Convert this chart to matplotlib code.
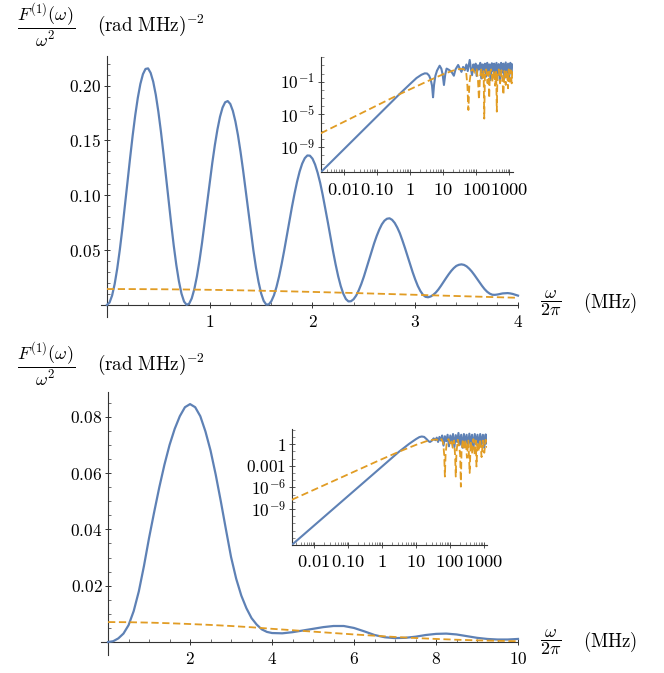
import numpy as np
import matplotlib
matplotlib.use("Agg")
import matplotlib.pyplot as plt
from matplotlib.ticker import FixedLocator, FixedFormatter, NullFormatter

plt.rcParams['mathtext.fontset'] = 'cm'
plt.rcParams['font.family'] = ['DejaVu Serif']

# ---------------- data: top panel (main) ----------------
top_x = [0.000, 0.025, 0.050, 0.075, 0.100, 0.125, 0.150, 0.175, 0.200, 0.225, 0.250, 0.275, 0.300, 0.325,
         0.350, 0.375, 0.400, 0.425, 0.450, 0.475, 0.500, 0.525, 0.550, 0.575, 0.600, 0.625, 0.650, 0.675,
         0.700, 0.725, 0.750, 0.775, 0.800, 0.825, 0.850, 0.875, 0.900, 0.925, 0.950, 0.975, 1.000, 1.025,
         1.050, 1.075, 1.100, 1.125, 1.150, 1.175, 1.200, 1.225, 1.250, 1.275, 1.300, 1.325, 1.350, 1.375,
         1.400, 1.425, 1.450, 1.475, 1.500, 1.525, 1.550, 1.575, 1.600, 1.625, 1.650, 1.675, 1.700, 1.725,
         1.750, 1.775, 1.800, 1.825, 1.850, 1.875, 1.900, 1.925, 1.950, 1.975, 2.000, 2.025, 2.050, 2.075,
         2.100, 2.125, 2.150, 2.175, 2.200, 2.225, 2.250, 2.275, 2.300, 2.325, 2.350, 2.375, 2.400, 2.425,
         2.450, 2.475, 2.500, 2.525, 2.550, 2.575, 2.600, 2.625, 2.650, 2.675, 2.700, 2.725, 2.750, 2.775,
         2.800, 2.825, 2.850, 2.875, 2.900, 2.925, 2.950, 2.975, 3.000, 3.025, 3.050, 3.075, 3.100, 3.125,
         3.150, 3.175, 3.200, 3.225, 3.250, 3.275, 3.300, 3.325, 3.350, 3.375, 3.400, 3.425, 3.450, 3.475,
         3.500, 3.525, 3.550, 3.575, 3.600, 3.625, 3.650, 3.675, 3.700, 3.725, 3.750, 3.775, 3.800, 3.825,
         3.850, 3.875, 3.900, 3.925, 3.950, 3.975, 4.000]
top_blue = [0.0000, 0.0022, 0.0086, 0.0191, 0.0332, 0.0503, 0.0697, 0.0906, 0.1123, 0.1339, 0.1544, 0.1729,
            0.1888, 0.2015, 0.2104, 0.2152, 0.2157, 0.2116, 0.2036, 0.1917, 0.1763, 0.1582, 0.1380, 0.1166,
            0.0950, 0.0740, 0.0540, 0.0364, 0.0217, 0.0104, 0.0031, 0.0001, 0.0012, 0.0060, 0.0144, 0.0259,
            0.0402, 0.0565, 0.0744, 0.0930, 0.1116, 0.1295, 0.1458, 0.1600, 0.1716, 0.1800, 0.1848, 0.1859,
            0.1833, 0.1770, 0.1673, 0.1547, 0.1395, 0.1226, 0.1042, 0.0857, 0.0667, 0.0497, 0.0341, 0.0210,
            0.0106, 0.0037, 0.0003, 0.0005, 0.0035, 0.0088, 0.0165, 0.0261, 0.0374, 0.0498, 0.0629, 0.0763,
            0.0893, 0.1014, 0.1124, 0.1217, 0.1289, 0.1338, 0.1363, 0.1361, 0.1334, 0.1281, 0.1206, 0.1113,
            0.1001, 0.0877, 0.0751, 0.0618, 0.0490, 0.0370, 0.0262, 0.0172, 0.0102, 0.0054, 0.0032, 0.0034,
            0.0052, 0.0085, 0.0133, 0.0191, 0.0258, 0.0333, 0.0410, 0.0487, 0.0562, 0.0629, 0.0687, 0.0735,
            0.0768, 0.0786, 0.0790, 0.0776, 0.0748, 0.0706, 0.0654, 0.0589, 0.0519, 0.0445, 0.0370, 0.0298,
            0.0232, 0.0173, 0.0127, 0.0093, 0.0074, 0.0070, 0.0077, 0.0092, 0.0113, 0.0141, 0.0174, 0.0210,
            0.0245, 0.0279, 0.0310, 0.0336, 0.0356, 0.0366, 0.0370, 0.0365, 0.0352, 0.0331, 0.0305, 0.0274,
            0.0241, 0.0207, 0.0174, 0.0144, 0.0120, 0.0103, 0.0093, 0.0092, 0.0095, 0.0100, 0.0105, 0.0107,
            0.0108, 0.0105, 0.0100, 0.0093, 0.0085]
top_orange_x = [0.00, 0.25, 0.50, 0.75, 1.00, 1.25, 1.50, 1.75, 2.00, 2.25, 2.50, 2.75, 3.00, 3.25, 3.50, 3.75, 4.00]
top_orange = [0.01450, 0.01445, 0.01432, 0.01410, 0.01379, 0.01341, 0.01296, 0.01244, 0.01187, 0.01126,
              0.01061, 0.00994, 0.00925, 0.00855, 0.00786, 0.00718, 0.00652]

# ---------------- data: bottom panel (main) ----------------
bot_x = [0.000, 0.125, 0.250, 0.375, 0.500, 0.625, 0.750, 0.875, 1.000, 1.125, 1.250, 1.375, 1.500, 1.625,
         1.750, 1.875, 2.000, 2.125, 2.250, 2.375, 2.500, 2.625, 2.750, 2.875, 3.000, 3.125, 3.250, 3.375,
         3.500, 3.625, 3.750, 3.875, 4.000, 4.25, 4.50, 4.75, 5.00, 5.25, 5.50, 5.75, 6.00, 6.25, 6.50,
         6.75, 7.00, 7.25, 7.50, 7.75, 8.00, 8.25, 8.50, 8.75, 9.00, 9.25, 9.50, 9.75, 10.00]
bot_blue = [0.0000, 0.0003, 0.0013, 0.0030, 0.0060, 0.0110, 0.0180, 0.0270, 0.0370, 0.0462, 0.0550, 0.0630,
            0.0700, 0.0757, 0.0802, 0.0834, 0.0845, 0.0834, 0.0802, 0.0748, 0.0680, 0.0595, 0.0500, 0.0400,
            0.0302, 0.0225, 0.0165, 0.0120, 0.0085, 0.0062, 0.0045, 0.0036, 0.0032, 0.0031, 0.0035, 0.0041,
            0.0047, 0.0053, 0.0057, 0.0057, 0.0050, 0.0038, 0.0025, 0.0017, 0.0014, 0.0015, 0.0019, 0.0025,
            0.0029, 0.0030, 0.0027, 0.0021, 0.0015, 0.0011, 0.0009, 0.0009, 0.0011]
bot_orange_x = [0.0, 0.5, 1.0, 1.5, 2.0, 2.5, 3.0, 3.5, 4.0, 4.5, 5.0, 5.5, 6.0, 6.5, 7.0, 7.5, 8.0, 8.5,
                9.0, 9.5, 10.0]
bot_orange = [0.00710, 0.00705, 0.00690, 0.00668, 0.00640, 0.00608, 0.00570, 0.00525, 0.00470, 0.00420,
              0.00370, 0.00320, 0.00270, 0.00225, 0.00180, 0.00143, 0.00110, 0.00082, 0.00060, 0.00043,
              0.00030]

# ---------------- data: insets (log10 x, log10 y) ----------------
ti_blue_lx = [-2.70, -1.00, -0.30, 0.00, 0.20, 0.35, 0.45, 0.52, 0.58, 0.63, 0.67, 0.70, 0.73, 0.77, 0.82,
              0.90, 0.95, 0.99, 1.03, 1.07, 1.11, 1.18, 1.26, 1.33, 1.38, 1.46, 1.51, 1.56, 1.61, 1.66,
              1.71, 1.75, 1.81, 1.85, 1.88, 1.92, 1.95, 1.99, 2.02, 2.06, 2.09, 2.13, 2.16, 2.20, 2.23,
              2.27, 2.30, 2.34, 2.37, 2.41, 2.44, 2.48, 2.51, 2.55, 2.58, 2.62, 2.65, 2.69, 2.72, 2.76,
              2.79, 2.83, 2.86, 2.90, 2.93, 2.97, 3.00, 3.04, 3.07, 3.10]
ti_blue_ly = [-12.05, -5.25, -2.45, -1.30, -0.55, -0.15, 0.02, 0.00, -0.25, -0.75, -1.50, -2.90, -1.40, -0.30, 0.35,
              0.95, 0.60, -0.10, -1.40, -0.10, 0.60, 0.45, 0.20, -0.27, 0.50, 1.04, 0.60, 0.20, 0.80, 0.40,
              1.10, 0.30, 1.65, 0.50, -0.20, 1.10, 0.40, 1.20, -0.30, 1.00, 0.50, 1.30, -0.60, 1.10, 0.20,
              1.20, -0.40, 1.30, 0.00, 1.10, -0.80, 1.25, 0.30, 1.20, -0.50, 1.30, -0.20, 1.15, -0.90, 1.30,
              0.10, 1.20, -0.60, 1.35, -0.30, 1.20, -0.70, 1.30, 0.00, 1.10]
ti_orange_lx = [-2.70, -0.30, 0.50, 1.00, 1.30, 1.50, 1.62, 1.70, 1.74, 1.77, 1.80, 1.85, 1.90, 1.96, 2.02,
                2.06, 2.09, 2.12, 2.16, 2.20, 2.23, 2.25, 2.27, 2.31, 2.35, 2.38, 2.40, 2.42, 2.46, 2.50,
                2.54, 2.58, 2.61, 2.63, 2.65, 2.69, 2.73, 2.77, 2.80, 2.83, 2.86, 2.90, 2.93, 2.95, 2.97,
                2.99, 3.02, 3.05, 3.08, 3.10]
ti_orange_ly = [-7.30, -2.50, -1.00, -0.10, 0.35, 0.55, 0.55, 0.30, -1.50, -4.45, -1.20, 0.30, 0.55, 0.10, 0.50,
                -0.80, -3.20, -0.50, 0.50, -0.60, 0.30, -5.50, -0.30, 0.50, -1.20, 0.20, -3.00, 0.10, 0.50, -1.00,
                0.40, -1.50, 0.20, -4.65, 0.10, 0.50, -1.20, 0.40, -0.90, -2.60, 0.30, -1.40, 0.40, -0.60, -1.80,
                0.50, -1.00, 0.40, -1.20, 0.50]

bi_blue_lx = [-2.66, -0.06, 0.50, 0.80, 1.00, 1.10, 1.17, 1.24, 1.31, 1.37, 1.41, 1.46, 1.52, 1.57, 1.61,
              1.65, 1.69, 1.73, 1.77, 1.81, 1.85, 1.89, 1.93, 1.97, 2.01, 2.05, 2.09, 2.13, 2.17, 2.21,
              2.25, 2.29, 2.33, 2.37, 2.41, 2.45, 2.49, 2.53, 2.57, 2.61, 2.65, 2.69, 2.73, 2.77, 2.81,
              2.85, 2.89, 2.93, 2.97, 3.01, 3.05, 3.08]
bi_blue_ly = [-14.00, -3.35, -1.05, 0.05, 0.70, 0.98, 1.06, 1.00, 0.70, 0.40, 0.30, 0.45, 0.80, 0.55, 0.90,
              0.30, 1.00, 0.50, 1.20, -0.20, 1.10, 0.40, 1.30, -0.30, 1.20, 0.20, 1.40, -0.40, 1.25, 0.30,
              1.55, -0.10, 1.30, -0.50, 1.40, 0.20, 1.30, -0.40, 1.45, 0.00, 1.30, -0.60, 1.40, 0.10, 1.30,
              -0.30, 1.40, 0.00, 1.30, -0.50, 1.35, 0.10]
bi_orange_lx = [-2.66, -0.06, 0.50, 1.00, 1.30, 1.50, 1.60, 1.68, 1.75, 1.80, 1.83, 1.85, 1.87, 1.91, 1.96,
                2.00, 2.04, 2.08, 2.12, 2.15, 2.17, 2.19, 2.23, 2.27, 2.30, 2.32, 2.34, 2.38, 2.42, 2.46,
                2.50, 2.54, 2.58, 2.61, 2.65, 2.69, 2.73, 2.76, 2.78, 2.81, 2.85, 2.89, 2.93, 2.97, 3.01,
                3.05, 3.08]
bi_orange_ly = [-7.73, -2.20, -1.05, -0.10, 0.40, 0.60, 0.65, 0.40, 0.70, 0.20, -1.50, -4.50, -1.50, 0.50, 0.70,
                0.10, 0.60, -0.50, 0.50, -1.50, -4.50, -1.20, 0.60, -0.30, -1.50, -5.90, -1.00, 0.70, -0.80, 0.60,
                -1.90, 0.50, -4.00, 0.40, -1.20, 0.70, -1.60, 0.50, -3.10, 0.30, -1.00, 0.70, -1.80, 0.50, -1.20,
                0.60, -0.50]

# tick labels
top_xticks = [1, 2, 3, 4]
top_yticks = [0.05, 0.10, 0.15, 0.20]
top_ylabels = ['0.05', '0.10', '0.15', '0.20']
bot_xticks = [2, 4, 6, 8, 10]
bot_yticks = [0.02, 0.04, 0.06, 0.08]
bot_ylabels = ['0.02', '0.04', '0.06', '0.08']
inset_xticks = [0.01, 0.1, 1, 10, 100, 1000]
inset_xlabels = ['0.01', '0.10', '1', '10', '100', '1000']
ti_yticks = [1e-1, 1e-5, 1e-9]
ti_ylabels = [r'10^{-1}', r'10^{-5}', r'10^{-9}']
bi_yticks = [1, 1e-3, 1e-6, 1e-9]
bi_ylabels = ['1', '0.001', r'10^{-6}', r'10^{-9}']

BLUE = '#5E81B5'
ORANGE = '#E19C24'
AXC = '#333333'
FS = 12.5

W, H = 664, 673
fig = plt.figure(figsize=(W / 100, H / 100), dpi=100)


def m(s):
    return '$' + s + '$'


def style_main(ax, xmaj, xmin_step, xmax, ymaj, ylabels, ymin_step, ymax):
    for s in ['top', 'right']:
        ax.spines[s].set_visible(False)
    for s in ['left', 'bottom']:
        ax.spines[s].set_position(('data', 0))
        ax.spines[s].set_color(AXC)
        ax.spines[s].set_linewidth(0.8)
    ax.xaxis.set_major_locator(FixedLocator(xmaj))
    ax.xaxis.set_major_formatter(FixedFormatter([m(str(v)) for v in xmaj]))
    ax.xaxis.set_minor_locator(FixedLocator(np.arange(xmin_step, xmax + 1e-9, xmin_step)))
    ax.yaxis.set_major_locator(FixedLocator(ymaj))
    ax.yaxis.set_major_formatter(FixedFormatter([m(v) for v in ylabels]))
    ax.yaxis.set_minor_locator(FixedLocator(np.arange(ymin_step, ymax, ymin_step)))
    ax.tick_params(which='major', direction='inout', length=5, width=0.7, color=AXC, labelsize=FS)
    ax.tick_params(which='minor', direction='in', length=2.5, width=0.5, color=AXC)
    ax.tick_params(axis='x', which='major', pad=4)
    ax.tick_params(axis='y', which='major', pad=1.5)
    ax.set_facecolor('none')


def style_inset(ax, xl, yl, yticks, ylabels):
    ax.set_xscale('log')
    ax.set_yscale('log')
    ax.set_xlim(10 ** xl[0], 10 ** xl[1])
    ax.set_ylim(10 ** yl[0], 10 ** yl[1])
    ax.set_facecolor('none')
    for s in ['top', 'right']:
        ax.spines[s].set_visible(False)
    for s in ['left', 'bottom']:
        ax.spines[s].set_color(AXC)
        ax.spines[s].set_linewidth(0.8)
    ax.xaxis.set_major_locator(FixedLocator(inset_xticks))
    ax.xaxis.set_major_formatter(FixedFormatter([m(v) for v in inset_xlabels]))
    xminors = [k * 10.0 ** e for e in range(-3, 4) for k in range(2, 10)]
    xminors = [v for v in xminors if 10 ** xl[0] <= v <= 10 ** xl[1]]
    ax.xaxis.set_minor_locator(FixedLocator(xminors))
    ax.xaxis.set_minor_formatter(NullFormatter())
    ax.yaxis.set_major_locator(FixedLocator(yticks))
    ax.yaxis.set_major_formatter(FixedFormatter([m(v) for v in ylabels]))
    yminors = [10.0 ** e for e in range(int(np.ceil(yl[0])), int(np.floor(yl[1])) + 1)]
    ax.yaxis.set_minor_locator(FixedLocator(yminors))
    ax.yaxis.set_minor_formatter(NullFormatter())
    ax.tick_params(which='major', direction='inout', length=4, width=0.6, color=AXC, labelsize=FS)
    ax.tick_params(axis='x', which='major', labelsize=13.3)
    ax.tick_params(which='minor', direction='in', length=2, width=0.4, color=AXC)
    ax.tick_params(axis='x', which='major', pad=4)
    ax.tick_params(axis='y', which='major', pad=2)


# ---------- top main ----------
ax1 = fig.add_axes([100.8 / W, 1 - 317 / H, (518 - 100.8) / W, (317 - 56) / H])
ax1.set_xlim(-0.06, 4.0)
ax1.set_ylim(-0.011, 0.227)
ax1.plot(top_x, top_blue, color=BLUE, lw=1.6, clip_on=False, zorder=3)
ax1.plot(top_orange_x, top_orange, color=ORANGE, lw=1.3, dashes=(4, 2), clip_on=False, zorder=3)
style_main(ax1, top_xticks, 0.2, 4.0, top_yticks, top_ylabels, 0.01, 0.227)

# ---------- bottom main ----------
ax2 = fig.add_axes([100.7 / W, 1 - 655 / H, (518 - 100.7) / W, (655 - 392) / H])
ax2.set_xlim(-0.18, 10.0)
ax2.set_ylim(-0.0046, 0.0888)
ax2.plot(bot_x, bot_blue, color=BLUE, lw=1.6, clip_on=False, zorder=3)
ax2.plot(bot_orange_x, bot_orange, color=ORANGE, lw=1.3, dashes=(4, 2), clip_on=False, zorder=3)
style_main(ax2, bot_xticks, 0.5, 10.0, bot_yticks, bot_ylabels, 0.005, 0.0888)

# ---------- top inset ----------
ai1 = fig.add_axes([320.7 / W, 1 - 172.3 / H, (513 - 320.7) / W, (172.3 - 56.7) / H])
ai1.plot(10 ** np.array(ti_blue_lx), 10 ** np.array(ti_blue_ly), color=BLUE, lw=1.5, zorder=3)
ai1.plot(10 ** np.array(ti_orange_lx), 10 ** np.array(ti_orange_ly), color=ORANGE, lw=1.3,
         dashes=(4, 2), zorder=3)
style_inset(ai1, (-2.70, 3.12), (-12.05, 2.05), ti_yticks, ti_ylabels)

# ---------- bottom inset ----------
ai2 = fig.add_axes([291.7 / W, 1 - 545 / H, (487 - 291.7) / W, (545 - 429) / H])
ai2.plot(10 ** np.array(bi_blue_lx), 10 ** np.array(bi_blue_ly), color=BLUE, lw=1.5, zorder=3)
ai2.plot(10 ** np.array(bi_orange_lx), 10 ** np.array(bi_orange_ly), color=ORANGE, lw=1.3,
         dashes=(4, 2), zorder=3)
style_inset(ai2, (-2.66, 3.09), (-14.0, 2.1), bi_yticks, bi_ylabels)

# ---------- axis labels ----------
ylab = r'$\dfrac{F^{(1)}(\omega)}{\omega^2}$'
unit_y = r'$(\mathrm{rad\ MHz})^{-2}$'
xlab = r'$\dfrac{\omega}{2\pi}$'
unit_x = r'$(\mathrm{MHz})$'
for dy in (0, 339):
    fig.text(46 / W, 1 - (25 + dy) / H, ylab, ha='center', va='center', fontsize=13)
    fig.text(97 / W, 1 - (25 + dy) / H, unit_y, ha='left', va='center', fontsize=13.8)
for yc in (303, 642):
    fig.text(551 / W, 1 - yc / H, xlab, ha='center', va='center', fontsize=13)
    fig.text(583 / W, 1 - yc / H, unit_x, ha='left', va='center', fontsize=13.5)

fig.savefig('out.png', dpi=100)
